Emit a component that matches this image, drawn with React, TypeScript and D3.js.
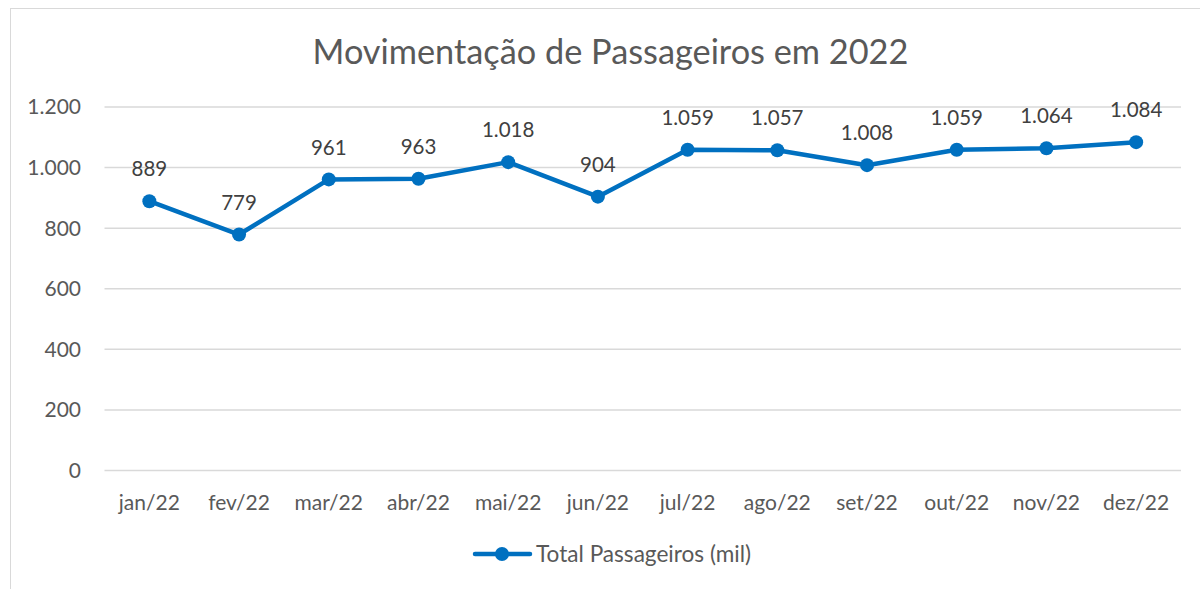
import React from "react";
import * as d3 from "d3";

const categories = ["jan/22","fev/22","mar/22","abr/22","mai/22","jun/22","jul/22","ago/22","set/22","out/22","nov/22","dez/22"];
const values = [889, 779, 961, 963, 1018, 904, 1059, 1057, 1008, 1059, 1064, 1084];
const yTicks = [0, 200, 400, 600, 800, 1000, 1200];
const title = "Movimentação de Passageiros em 2022";
const seriesName = "Total Passageiros (mil)";

const W = 1200, H = 589;
const FONT = "Lato, 'Open Sans', sans-serif";
const fmt = (v: number) => v.toLocaleString("de-DE");

export default function App() {
  const x = d3.scaleBand<string>().domain(categories).range([104.5, 1181]);
  const y = d3.scaleLinear().domain([0, 1200]).range([470.5, 107]);
  const cx = (c: string) => (x(c) as number) + x.bandwidth() / 2;
  const line = d3.line<number>().x((_, i) => cx(categories[i])).y((d) => y(d));
  const color = "#0070C0";
  return (
    <div style={{ position: "absolute", left: 0, top: 0 }}>
      <svg width={W} height={H} style={{ display: "block" }}>
        <rect x={0} y={0} width={W} height={H} fill="#fff" />
        <rect x={10.5} y={8.5} width={W + 20} height={H + 20} fill="#fff" stroke="#d9d9d9" strokeWidth={1} />
        <text x={610.5} y={64} textAnchor="middle" fontFamily={FONT} fontSize={34.3} fill="#595959">{title}</text>
        {yTicks.map((t) => (
          <g key={t}>
            <line x1={104.5} x2={1181} y1={y(t)} y2={y(t)} stroke="#d9d9d9" strokeWidth={1.5} />
            <text x={81} y={y(t)} dy="0.35em" textAnchor="end" fontFamily={FONT} fontSize={21} fill="#595959">{fmt(t)}</text>
          </g>
        ))}
        {categories.map((c) => (
          <text key={c} x={cx(c)} y={503} dy="0.35em" textAnchor="middle" fontFamily={FONT} fontSize={21} fill="#595959">{c}</text>
        ))}
        <path d={line(values) || ""} fill="none" stroke={color} strokeWidth={4.5} strokeLinejoin="round" />
        {values.map((v, i) => (
          <g key={i}>
            <circle cx={cx(categories[i])} cy={y(v)} r={7} fill={color} />
            <text x={cx(categories[i])} y={y(v) - 32} dy="0.35em" textAnchor="middle" fontFamily={FONT} fontSize={20.5} fill="#404040">{fmt(v)}</text>
          </g>
        ))}
        <g>
          <line x1={475} x2={530} y1={554} y2={554} stroke={color} strokeWidth={4.5} strokeLinecap="round" />
          <circle cx={502} cy={554} r={7} fill={color} />
          <text x={536} y={554} dy="0.35em" fontFamily={FONT} fontSize={22.6} fill="#595959">{seriesName}</text>
        </g>
      </svg>
    </div>
  );
}
